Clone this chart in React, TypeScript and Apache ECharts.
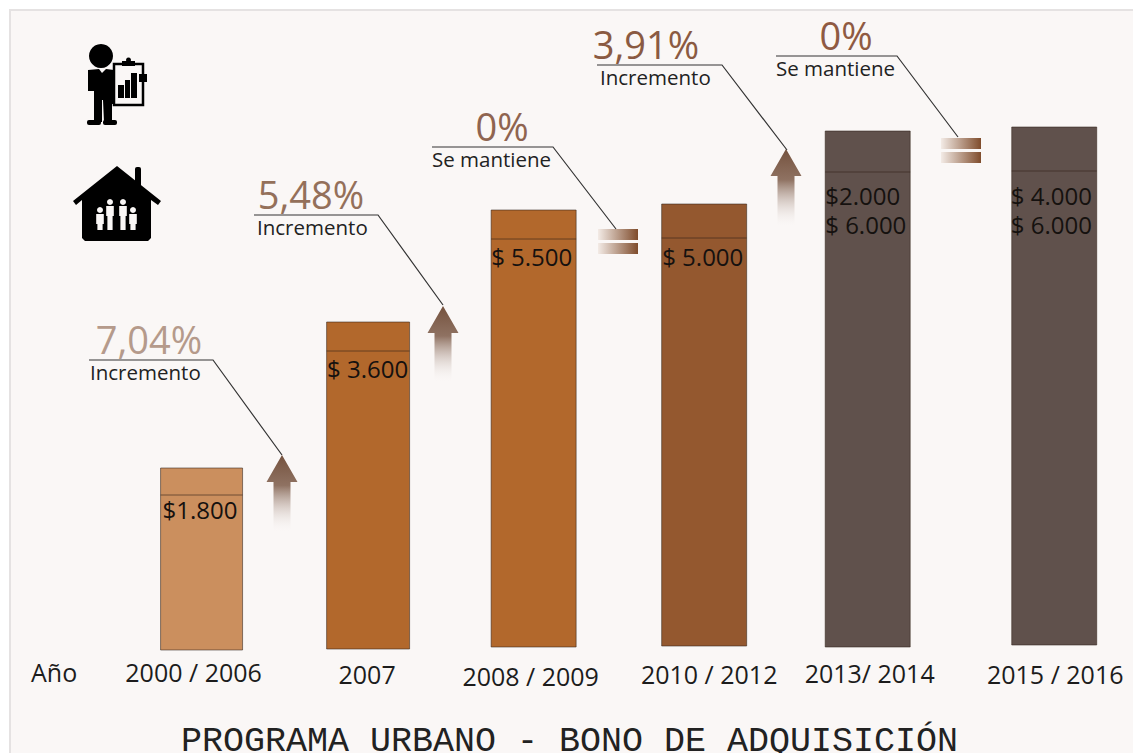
import React, { useEffect, useRef } from "react";
import * as echarts from "echarts";

const categories = ["2000 / 2006", "2007", "2008 / 2009", "2010 / 2012", "2013/ 2014", "2015 / 2016"];
// Bar heights as drawn in the picture (not proportional to the printed amounts)
const barHeights = [182, 327, 437, 442, 516, 518];
const bandHeights = [27, 29, 29, 34, 41, 44];
const priceLabels = [["$1.800"], ["$ 3.600"], ["$ 5.500"], ["$ 5.000"], ["$2.000", "$ 6.000"], ["$ 4.000", "$ 6.000"]];
const barColors = ["#cb8f5e", "#b2682c", "#b2682c", "#94582f", "#60514c", "#60514c"];
const barNudgeX = [1, -2, -6, -5, -11, 6];
const barNudgeY = [0, -1, -3, -4, -3, -5];
const labelNudgeX = [-7, -3, -9, 0, -9, 7];
const labelNudgeY = [0, 2, 4, 2, 1, 2];
const priceOffset = [14, 17, 17, 18, 23, 24];
const priceInset = [2, 0.5, 0, 0.5, 0, -1];

const FONT = '"Open Sans", sans-serif';
const INK = "#1c1c1c";

const callouts = [
  { pct: "7,04%", sub: "Incremento", color: "#b59a8b", cx: 149, y: 360, x0: 89, x1: 213, ex: 282, ey: 455, subX: 90 },
  { pct: "5,48%", sub: "Incremento", color: "#94705a", cx: 311, y: 215, x0: 254, x1: 378, ex: 443, ey: 305, subX: 257 },
  { pct: "0%", sub: "Se mantiene", color: "#8f6450", cx: 502, y: 147, x0: 432, x1: 553, ex: 616, ey: 229, subX: 432 },
  { pct: "3,91%", sub: "Incremento", color: "#8a5a42", cx: 646, y: 65, x0: 597, x1: 722, ex: 787, ey: 150, subX: 600 },
  { pct: "0%", sub: "Se mantiene", color: "#8f5a42", cx: 846, y: 56, x0: 776, x1: 897, ex: 958, ey: 137, subX: 776 },
];

function arrow(x: number, tip: number, bottom: number) {
  return {
    type: "polygon",
    shape: {
      points: [
        [x, tip], [x + 15.5, tip + 27], [x + 8.5, tip + 27], [x + 8.5, bottom],
        [x - 8.5, bottom], [x - 8.5, tip + 27], [x - 15.5, tip + 27],
      ],
    },
    style: {
      fill: new echarts.graphic.LinearGradient(0, 0, 0, 1, [
        { offset: 0, color: "#75523e" },
        { offset: 0.4, color: "#8f7262" },
        { offset: 1, color: "rgba(250,247,246,0.1)" },
      ]),
    },
  };
}

function equalBars(x: number, y: number) {
  const fill = () =>
    new echarts.graphic.LinearGradient(0, 0, 1, 0, [
      { offset: 0, color: "#f3ebe6" },
      { offset: 1, color: "#7f4c2c" },
    ]);
  return [
    { type: "rect", shape: { x, y, width: 40, height: 11 }, style: { fill: fill() } },
    { type: "rect", shape: { x, y: y + 14, width: 40, height: 11 }, style: { fill: fill() } },
  ];
}

function personIcon() {
  const k = { fill: "#000" };
  return [
    { type: "circle", shape: { cx: 101, cy: 56, r: 12 }, style: k },
    { type: "polygon", shape: { points: [[88, 70], [99, 69], [102, 73], [106, 69], [114, 70], [114, 104], [112, 104], [112, 122], [104, 122], [103, 100], [102, 100], [102, 122], [94, 122], [94, 91], [88, 91]] }, style: k },
    { type: "rect", shape: { x: 87, y: 120, width: 14, height: 5, r: 2 }, style: k },
    { type: "rect", shape: { x: 103, y: 120, width: 14, height: 5, r: 2 }, style: k },
    { type: "rect", shape: { x: 114, y: 64, width: 29, height: 41 }, style: { fill: "#faf7f6", stroke: "#000", lineWidth: 2.5 } },
    { type: "rect", shape: { x: 122, y: 61, width: 13, height: 5 }, style: k },
    { type: "circle", shape: { cx: 128.5, cy: 60, r: 2.5 }, style: k },
    { type: "rect", shape: { x: 118, y: 85, width: 6, height: 13 }, style: k },
    { type: "rect", shape: { x: 125, y: 80, width: 5, height: 18 }, style: k },
    { type: "rect", shape: { x: 131, y: 73, width: 6, height: 25 }, style: k },
    { type: "rect", shape: { x: 139, y: 74, width: 8, height: 8 }, style: k },
  ];
}

function houseIcon() {
  const k = { fill: "#000" };
  const w = { fill: "#faf7f6" };
  const figure = (cx: number, top: number, h: number) => [
    { type: "circle", shape: { cx, cy: top + 3, r: 3 }, style: w },
    { type: "polygon", shape: { points: [[cx - 3.8, top + 7], [cx + 3.8, top + 7], [cx + 3.8, top + 17], [cx + 2.6, top + 17], [cx + 2.6, top + h], [cx - 2.6, top + h], [cx - 2.6, top + 17], [cx - 3.8, top + 17]] }, style: w },
  ];
  return [
    { type: "rect", shape: { x: 135, y: 167, width: 6, height: 22, r: 2 }, style: k },
    { type: "polygon", shape: { points: [[117, 166], [161, 201], [158, 205], [151, 200], [151, 238], [148, 241], [85, 241], [82, 238], [82, 200], [76, 205], [73, 201]] }, style: k },
    ...figure(100, 207, 23),
    ...figure(110, 199, 31),
    ...figure(123, 199, 31),
    ...figure(133, 207, 23),
  ];
}

export default function App() {
  const ref = useRef<HTMLDivElement>(null);
  useEffect(() => {
    const chart = echarts.init(ref.current!, undefined, { renderer: "svg" });
    const richStyles: Record<string, any> = {};
    categories.forEach((_, i) => {
      const dx = labelNudgeX[i];
      richStyles["c" + i] = {
        fontFamily: FONT,
        fontSize: 25,
        color: INK,
        padding: [labelNudgeY[i], dx < 0 ? -2 * dx : 0, 0, dx > 0 ? 2 * dx : 0],
      };
    });

    const graphic: any[] = [
      { type: "rect", z: -10, shape: { x: 10, y: 10, width: 1130, height: 750 }, style: { fill: "#faf7f6", stroke: "#e5e2e2", lineWidth: 2 } },
      { type: "group", children: personIcon() },
      { type: "group", children: houseIcon() },
      arrow(282, 455, 531),
      arrow(443, 306, 381),
      arrow(786, 149, 226),
      ...equalBars(598, 229),
      ...equalBars(941, 138),
      { type: "text", style: { text: "Año", x: 31, y: 672, fill: INK, font: `25px ${FONT}`, verticalAlign: "middle" } },
    ];
    callouts.forEach((c) => {
      graphic.push(
        { type: "polyline", shape: { points: [[c.x0, c.y], [c.x1, c.y], [c.ex, c.ey]] }, style: { stroke: "#333", lineWidth: 1.2, fill: "none" } },
        { type: "text", style: { text: c.pct, x: c.cx, y: c.y - 2, fill: c.color, font: `38px ${FONT}`, textAlign: "center", textVerticalAlign: "bottom" } },
        { type: "text", style: { text: c.sub, x: c.subX, y: c.y + 12, fill: "#222", font: `20.5px ${FONT}`, textVerticalAlign: "middle" } }
      );
    });

    chart.setOption({
      animation: false,
      backgroundColor: "#ffffff",
      title: {
        text: "PROGRAMA URBANO - BONO DE ADQUISICIÓN",
        left: 181,
        top: 724,
        padding: 0,
        textStyle: { fontFamily: '"Liberation Mono", monospace', fontSize: 35, fontWeight: "normal", color: "#222" },
      },
      grid: { left: 115.8, width: 1022.4, top: 50, height: 600 },
      xAxis: {
        type: "category",
        data: categories,
        axisLine: { show: false },
        axisTick: { show: false },
        axisLabel: {
          interval: 0,
          margin: 9,
          verticalAlign: "top",
          formatter: (v: string) => `{c${categories.indexOf(v)}|${v}}`,
          rich: richStyles,
        },
      },
      yAxis: { type: "value", min: 0, max: 600, show: false },
      graphic,
      series: [
        {
          type: "custom",
          data: barHeights.map((h, i) => [i, h]),
          encode: { x: 0, y: 1 },
          clip: false,
          renderItem: (_: any, api: any) => {
            const i = api.value(0);
            const h = api.value(1);
            const [cx, top] = api.coord([i, h]);
            const [, base] = api.coord([i, 0]);
            const barW = i === 0 ? 82 : i === 1 ? 83 : 85;
            const x = cx + barNudgeX[i] - barW / 2;
            const yTop = top + barNudgeY[i];
            const yBase = base + barNudgeY[i];
            const yBand = yTop + bandHeights[i];
            const children: any[] = [
              { type: "rect", shape: { x, y: yTop, width: barW, height: yBase - yTop }, style: { fill: barColors[i], stroke: "rgba(50,35,25,0.55)", lineWidth: 1 } },
              { type: "line", shape: { x1: x, y1: yBand, x2: x + barW, y2: yBand }, style: { stroke: "rgba(50,35,25,0.6)", lineWidth: 1 } },
            ];
            priceLabels[i].forEach((t, k) => {
              children.push({
                type: "text",
                style: { text: t, x: x + priceInset[i], y: yBand + priceOffset[i] + k * 29, fill: "#15110f", font: `24px ${FONT}`, textVerticalAlign: "middle" },
              });
            });
            return { type: "group", children };
          },
        },
      ],
    });
    return () => chart.dispose();
  }, []);
  return <div ref={ref} style={{ position: "fixed", left: 0, top: 0, width: 1133, height: 753 }} />;
}
